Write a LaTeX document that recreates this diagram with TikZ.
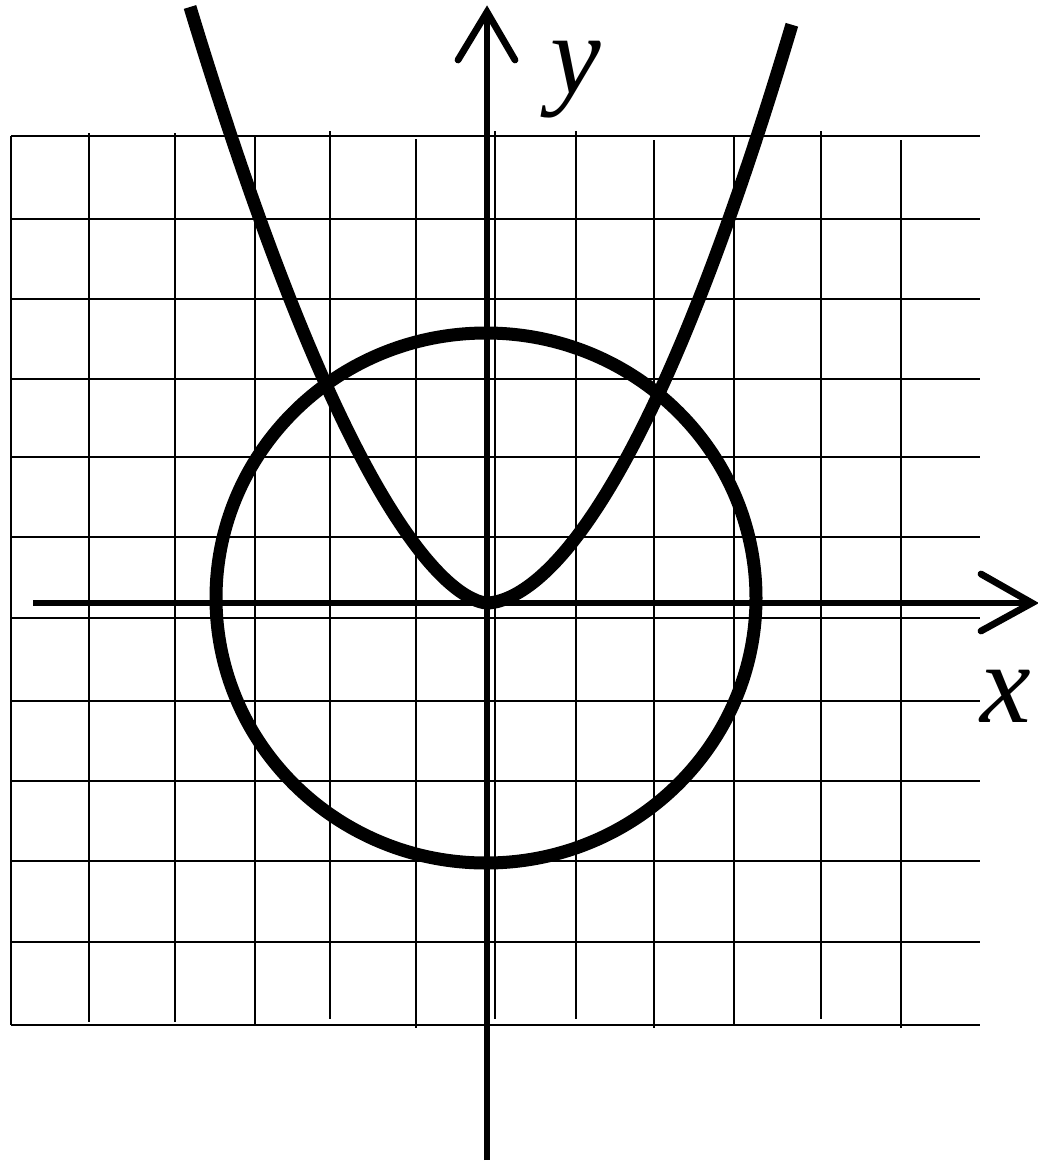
\documentclass[tikz,border=0pt]{standalone}
\usepackage{fontspec}
\setmainfont{Liberation Serif}
\begin{document}
\begin{tikzpicture}[x=0.5pt,y=-0.5pt,
  gridline/.style={line width=1pt,black},
  axisline/.style={line width=3.4pt,black},
  tipline/.style={line width=3.4pt,black,line cap=round,line join=miter},
  curveline/.style={line width=6.5pt,black,line join=round},
  lbl/.style={font=\fontsize{57}{60}\selectfont\itshape,inner sep=0pt}]
\useasboundingbox (0,0) rectangle (1038,1168);
% horizontal grid lines
\foreach \y in {136,219,299,379,457,537,618,701,781,861,942,1025}
  \draw[gridline] (11,\y) -- (980,\y);
% vertical grid lines
\foreach \x/\a/\b in {11/136/1025,89/133/1022,175/133/1022,255/136/1025,330/131/1019,416/139/1028,495/131/1019,576/131/1019,654/140/1028,734/137/1025,821/131/1019,901/140/1028}
  \draw[gridline] (\x,\a) -- (\x,\b);
% axes
\coordinate (xs) at (33,603);
\coordinate (xe) at (1032,603);
\coordinate (ys) at (487,1160);
\coordinate (ye) at (487,12);
\draw[axisline] (xs) -- (xe);
\draw[tipline] (981,574) -- (xe) -- (981,631);
\draw[axisline] (ys) -- (ye);
\draw[tipline] (458,60) -- (ye) -- (515,60);
% circle
\draw[curveline] (486,598) ellipse [x radius=270, y radius=265];
% parabola-like curve
\draw[curveline] plot[domain=-2.97:-0.0001, samples=90, variable=\t] ({487+100*\t},{603-100*pow(-\t,1.64)})
  -- plot[domain=0.0001:3.05, samples=90, variable=\t] ({487+100*\t},{603-80.4*pow(\t,1.77)});
% labels
\node[lbl] (ylab) at (576,80) {y};
\node[lbl] (xlab) at (1006,696) {x};
\end{tikzpicture}
\end{document}
